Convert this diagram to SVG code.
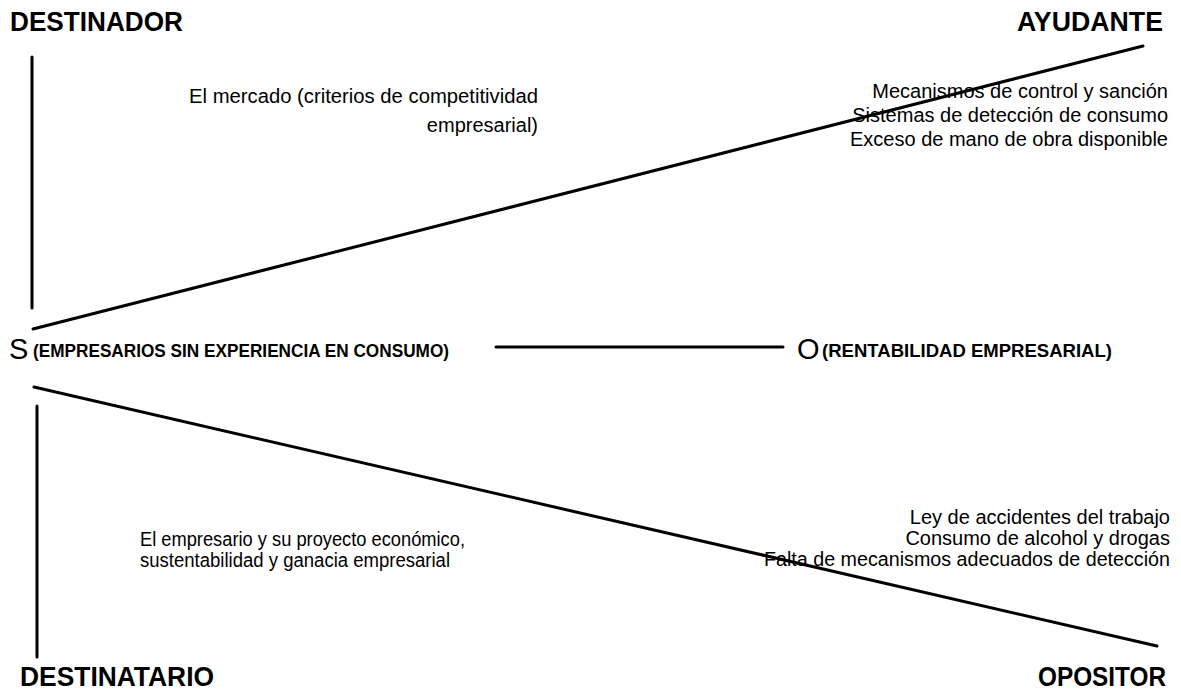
<svg xmlns="http://www.w3.org/2000/svg" width="1181" height="698" viewBox="0 0 1181 698">
<style>
.t{font-family:"Liberation Sans",Arial,sans-serif;font-size:20px;fill:#000}
.h{font-family:"Liberation Sans",Arial,sans-serif;font-weight:bold;font-size:27px;fill:#000}
.m{font-family:"Liberation Sans",Arial,sans-serif;font-weight:bold;font-size:19px;fill:#000}
.big{font-family:"Liberation Sans",Arial,sans-serif;font-size:29px;fill:#000}
.r{text-anchor:end}
.ln{stroke:#000;stroke-width:3;stroke-linecap:round;fill:none}
</style>
<rect width="1181" height="698" fill="#fff"/>
<g id="connectors">
<line class="ln" x1="32" y1="57" x2="32" y2="308"/>
<line class="ln" x1="33" y1="329" x2="1143" y2="46"/>
<line class="ln" x1="496" y1="347" x2="783" y2="347"/>
<line class="ln" x1="34" y1="387" x2="1157" y2="646"/>
<line class="ln" x1="37" y1="406" x2="37" y2="657"/>
</g>
<g id="destinador">
<text class="h" x="10" y="31" textLength="173" lengthAdjust="spacingAndGlyphs">DESTINADOR</text>
<text class="t r" x="538" y="103" textLength="349" lengthAdjust="spacingAndGlyphs">El mercado (criterios de competitividad</text>
<text class="t r" x="538" y="132">empresarial)</text>
</g>
<g id="ayudante">
<text class="h r" x="1163" y="31" textLength="146" lengthAdjust="spacingAndGlyphs">AYUDANTE</text>
<text class="t r" x="1168" y="98">Mecanismos de control y sanción</text>
<text class="t r" x="1168" y="122">Sistemas de detección de consumo</text>
<text class="t r" x="1168" y="146">Exceso de mano de obra disponible</text>
</g>
<g id="sujeto">
<text class="big" x="9" y="359">S</text>
<text class="m" x="33" y="357" textLength="416" lengthAdjust="spacingAndGlyphs">(EMPRESARIOS SIN EXPERIENCIA EN CONSUMO)</text>
</g>
<g id="objeto">
<text class="big" x="797" y="359">O</text>
<text class="m" x="822" y="357" textLength="290" lengthAdjust="spacingAndGlyphs">(RENTABILIDAD EMPRESARIAL)</text>
</g>
<g id="destinatario">
<text class="t" x="140" y="546" textLength="325" lengthAdjust="spacingAndGlyphs">El empresario y su proyecto económico,</text>
<text class="t" x="140" y="567" textLength="310" lengthAdjust="spacingAndGlyphs">sustentabilidad y ganacia empresarial</text>
<text class="h" x="20" y="686" textLength="194" lengthAdjust="spacingAndGlyphs">DESTINATARIO</text>
</g>
<g id="opositor">
<text class="t r" x="1170" y="524">Ley de accidentes del trabajo</text>
<text class="t r" x="1170" y="545">Consumo de alcohol y drogas</text>
<text class="t r" x="1170" y="566" textLength="406" lengthAdjust="spacingAndGlyphs">Falta de mecanismos adecuados de detección</text>
<text class="h r" x="1166" y="686" textLength="128" lengthAdjust="spacingAndGlyphs">OPOSITOR</text>
</g>
</svg>
